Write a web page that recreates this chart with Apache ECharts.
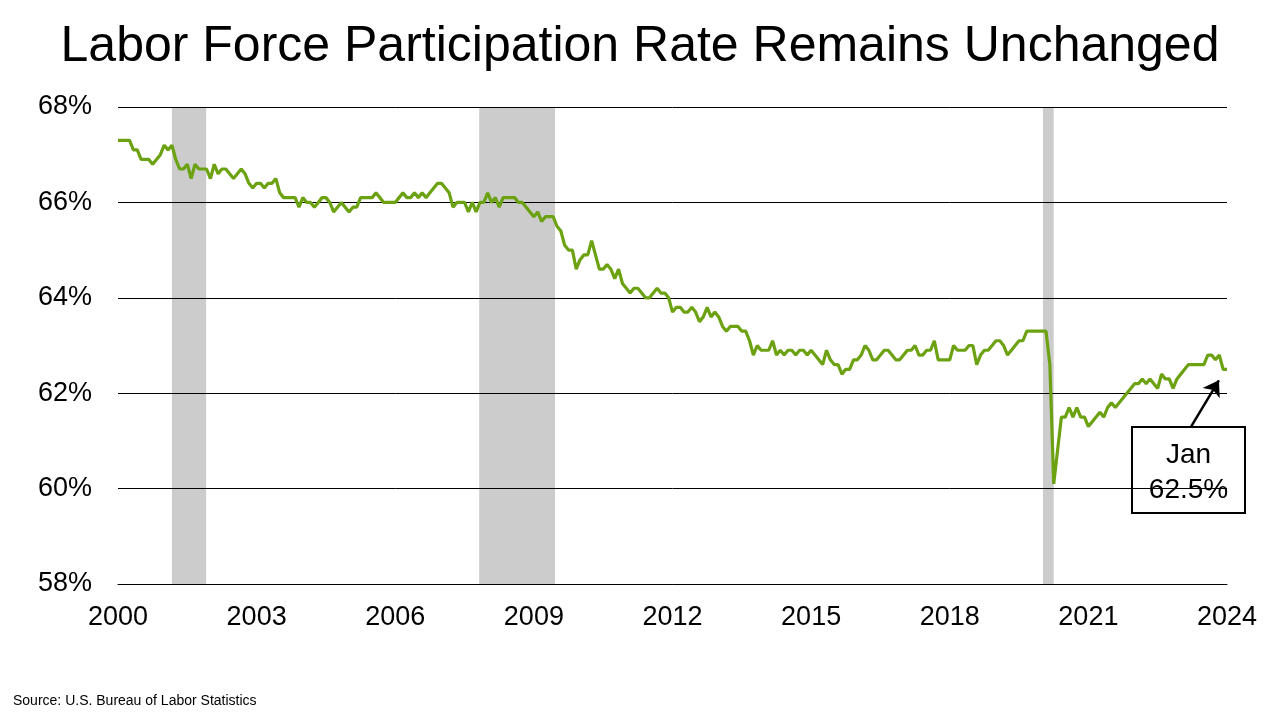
<!DOCTYPE html>
<html>
<head>
<meta charset="utf-8">
<script src="https://cdn.jsdelivr.net/npm/echarts@6/dist/echarts.min.js"></script>
<style>
  html, body { margin: 0; padding: 0; background: #fff; }
  #main { width: 1280px; height: 720px; }
</style>
</head>
<body>
<div id="main"></div>
<script>
var chartDom = document.getElementById('main');
var myChart = echarts.init(chartDom);
var option;

// monthly labor force participation rate (%), Jan..Dec of each year
const y2000 = [67.3, 67.3, 67.3, 67.3, 67.1, 67.1, 66.9, 66.9, 66.9, 66.8, 66.9, 67.0];
const y2001 = [67.2, 67.1, 67.2, 66.9, 66.7, 66.7, 66.8, 66.5, 66.8, 66.7, 66.7, 66.7];
const y2002 = [66.5, 66.8, 66.6, 66.7, 66.7, 66.6, 66.5, 66.6, 66.7, 66.6, 66.4, 66.3];
const y2003 = [66.4, 66.4, 66.3, 66.4, 66.4, 66.5, 66.2, 66.1, 66.1, 66.1, 66.1, 65.9];
const y2004 = [66.1, 66.0, 66.0, 65.9, 66.0, 66.1, 66.1, 66.0, 65.8, 65.9, 66.0, 65.9];
const y2005 = [65.8, 65.9, 65.9, 66.1, 66.1, 66.1, 66.1, 66.2, 66.1, 66.0, 66.0, 66.0];
const y2006 = [66.0, 66.1, 66.2, 66.1, 66.1, 66.2, 66.1, 66.2, 66.1, 66.2, 66.3, 66.4];
const y2007 = [66.4, 66.3, 66.2, 65.9, 66.0, 66.0, 66.0, 65.8, 66.0, 65.8, 66.0, 66.0];
const y2008 = [66.2, 66.0, 66.1, 65.9, 66.1, 66.1, 66.1, 66.1, 66.0, 66.0, 65.9, 65.8];
const y2009 = [65.7, 65.8, 65.6, 65.7, 65.7, 65.7, 65.5, 65.4, 65.1, 65.0, 65.0, 64.6];
const y2010 = [64.8, 64.9, 64.9, 65.2, 64.9, 64.6, 64.6, 64.7, 64.6, 64.4, 64.6, 64.3];
const y2011 = [64.2, 64.1, 64.2, 64.2, 64.1, 64.0, 64.0, 64.1, 64.2, 64.1, 64.1, 64.0];
const y2012 = [63.7, 63.8, 63.8, 63.7, 63.7, 63.8, 63.7, 63.5, 63.6, 63.8, 63.6, 63.7];
const y2013 = [63.6, 63.4, 63.3, 63.4, 63.4, 63.4, 63.3, 63.3, 63.1, 62.8, 63.0, 62.9];
const y2014 = [62.9, 62.9, 63.1, 62.8, 62.9, 62.8, 62.9, 62.9, 62.8, 62.9, 62.9, 62.8];
const y2015 = [62.9, 62.8, 62.7, 62.6, 62.9, 62.7, 62.6, 62.6, 62.4, 62.5, 62.5, 62.7];
const y2016 = [62.7, 62.8, 63.0, 62.9, 62.7, 62.7, 62.8, 62.9, 62.9, 62.8, 62.7, 62.7];
const y2017 = [62.8, 62.9, 62.9, 63.0, 62.8, 62.8, 62.9, 62.9, 63.1, 62.7, 62.7, 62.7];
const y2018 = [62.7, 63.0, 62.9, 62.9, 62.9, 63.0, 63.0, 62.6, 62.8, 62.9, 62.9, 63.0];
const y2019 = [63.1, 63.1, 63.0, 62.8, 62.9, 63.0, 63.1, 63.1, 63.3, 63.3, 63.3, 63.3];
const y2020 = [63.3, 63.3, 62.6, 60.1, 60.8, 61.5, 61.5, 61.7, 61.5, 61.7, 61.5, 61.5];
const y2021 = [61.3, 61.4, 61.5, 61.6, 61.5, 61.7, 61.8, 61.7, 61.8, 61.9, 62.0, 62.1];
const y2022 = [62.2, 62.2, 62.3, 62.2, 62.3, 62.2, 62.1, 62.4, 62.3, 62.3, 62.1, 62.3];
const y2023 = [62.4, 62.5, 62.6, 62.6, 62.6, 62.6, 62.6, 62.8, 62.8, 62.7, 62.8, 62.5];
const y2024 = [62.5];

const startYear = 2000;
const monthNames = ['Jan', 'Feb', 'Mar', 'Apr', 'May', 'Jun', 'Jul', 'Aug', 'Sep', 'Oct', 'Nov', 'Dec'];

// recession shading, in months since Jan 2000
const recessionStart = [14, 93.8, 240.2];
const recessionEnd = [22.9, 113.5, 243];

const rates = [].concat(y2000, y2001, y2002, y2003, y2004, y2005, y2006, y2007, y2008,
  y2009, y2010, y2011, y2012, y2013, y2014, y2015, y2016, y2017, y2018, y2019, y2020,
  y2021, y2022, y2023, y2024);
const lineData = rates.map(function (v, i) { return [i, v]; });
const lastIdx = rates.length - 1;
const lastRate = rates[lastIdx];

const font = '"Liberation Sans", Arial, sans-serif';

option = {
  animation: false,
  title: {
    text: 'Labor Force Participation Rate Remains Unchanged',
    left: 'center',
    top: 22,
    padding: 0,
    textStyle: { fontSize: 50, fontWeight: 'normal', color: '#000', fontFamily: font }
  },
  grid: { left: 118, right: 53, top: 107, bottom: 136 },
  xAxis: {
    type: 'value',
    min: 0,
    max: 288,
    interval: 36,
    axisLine: { show: true, lineStyle: { color: '#000', width: 1 } },
    axisTick: { show: false },
    splitLine: { show: false },
    axisLabel: {
      margin: 20,
      fontSize: 27,
      color: '#000',
      fontFamily: font,
      formatter: function (v) { return String(startYear + v / 12); }
    }
  },
  yAxis: {
    type: 'value',
    min: 58,
    max: 68,
    interval: 2,
    axisLine: { show: false },
    axisTick: { show: false },
    splitLine: { show: true, lineStyle: { color: '#000', width: 1 } },
    axisLabel: {
      margin: 26,
      fontSize: 27,
      color: '#000',
      fontFamily: font,
      formatter: '{value}%'
    }
  },
  series: [
    {
      name: 'Recession',
      type: 'line',
      data: [],
      z: -1,
      silent: true,
      markArea: {
        silent: true,
        z: -1,
        itemStyle: { color: '#cccccc' },
        data: recessionStart.map(function (s, i) {
          return [{ xAxis: s }, { xAxis: recessionEnd[i] }];
        })
      }
    },
    {
      name: 'LFPR',
      type: 'line',
      data: lineData,
      showSymbol: false,
      symbol: 'none',
      z: 3,
      lineStyle: { color: '#6ca212', width: 3.2 },
      markLine: {
        silent: true,
        symbol: ['none', 'arrow'],
        symbolSize: 15,
        label: { show: false },
        lineStyle: { color: '#000', width: 2.5, type: 'solid' },
        data: [[{ coord: [278.6, 61.29] }, { coord: [285.9, 62.27] }]]
      }
    }
  ],
  graphic: [
    {
      type: 'group',
      z: 100,
      children: [
        {
          type: 'rect',
          shape: { x: 1132, y: 427, width: 113, height: 86 },
          style: { fill: '#fff', stroke: '#000', lineWidth: 2 }
        },
        {
          type: 'text',
          style: {
            x: 1188.5,
            y: 473,
            text: monthNames[lastIdx % 12] + '\n' + lastRate.toFixed(1) + '%',
            align: 'center',
            verticalAlign: 'middle',
            fontSize: 28,
            lineHeight: 35,
            fontFamily: font,
            fill: '#000'
          }
        }
      ]
    },
    {
      type: 'text',
      left: 13,
      top: 694,
      style: {
        text: 'Source: U.S. Bureau of Labor Statistics',
        fontSize: 14,
        fontFamily: font,
        fill: '#000'
      }
    }
  ]
};

option && myChart.setOption(option);
</script>
</body>
</html>
